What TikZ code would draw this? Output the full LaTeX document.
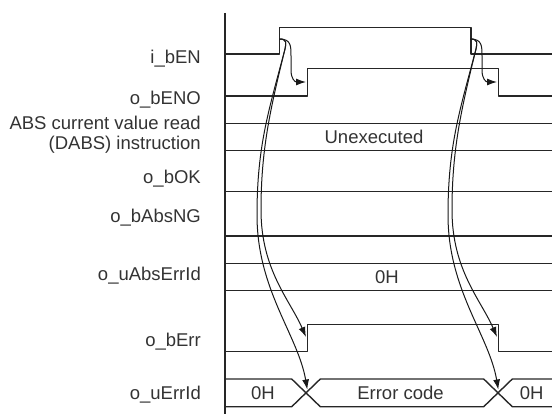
\documentclass[tikz,border=0pt]{standalone}
\usepackage{fontspec}
\setmainfont{Liberation Sans}
\usetikzlibrary{arrows.meta}
\tikzset{
  sig/.style={line width=1.4pt,draw=black!85},
  lbl/.style={anchor=east,inner sep=0pt,text height=13.2pt,text depth=0pt,text=black!80},
  val/.style={inner sep=0pt,text=black!80},
  flow/.style={line width=1pt,draw=black!90,-{Latex[length=10pt,width=7pt]}},
}
\begin{document}
\begin{tikzpicture}[x=1pt,y=-1pt,line join=round,font=\fontsize{18.5}{20}\selectfont]
  \useasboundingbox (0,0) rectangle (552,414);
  % signal names
  \node[lbl] (en) at (201,57) {i\_bEN};
  \node[lbl] (eno) at (201,98) {o\_bENO};
  \node[anchor=east,inner sep=0pt,align=right,text=black!80] (dabs) at (201,135) {ABS current value read\\(DABS) instruction};
  \node[lbl] (ok) at (201,177) {o\_bOK};
  \node[lbl] (absng) at (201,216) {o\_bAbsNG};
  \node[lbl] (abserr) at (201,274) {o\_uAbsErrId};
  \node[lbl] (err) at (201,340) {o\_bErr};
  \node[lbl] (errid) at (201,393) {o\_uErrId};
  % time axis
  \draw[sig] (225,13) -- (225,414);
  % waveforms
  \draw[sig] (225,54) -- (279.3,54) -- (279.3,27.7) -- (471,27.7) -- (471,54) -- (552,54);
  \draw[sig] (225,96) -- (307.3,96) -- (307.3,68.3) -- (498.3,68.3) -- (498.3,96) -- (552,96);
  \draw[sig] (225,123.3) -- (552,123.3);
  \draw[sig] (225,150.7) -- (552,150.7);
  \draw[sig] (225,191.7) -- (552,191.7);
  \draw[sig] (225,236) -- (552,236);
  \draw[sig] (225,263.3) -- (552,263.3);
  \draw[sig] (225,290.7) -- (552,290.7);
  \draw[sig] (225,351.7) -- (307.3,351.7) -- (307.3,324.3) -- (498.3,324.3) -- (498.3,351.7) -- (552,351.7);
  \draw[sig] (225,379) -- (291.7,379) -- (320.3,406.7) -- (483.7,406.7) -- (512.3,379) -- (552,379);
  \draw[sig] (225,406.7) -- (291.7,406.7) -- (320.3,379) -- (483.7,379) -- (512.3,406.7) -- (552,406.7);
  % values
  \node[val] (unexec) at (374,137) {Unexecuted};
  \node[val] (abszero) at (387,277) {0H};
  \node[val] (zeroa) at (263,393) {0H};
  \node[val] (ecode) at (400.5,393) {Error code};
  \node[val] (zerob) at (531.7,393) {0H};
  % causes
  \foreach \d/\i in {0/1,191/2} {
    \begin{scope}[xshift=\d]
      \coordinate (on\i) at (279.5,39);
      \coordinate (eno\i) at (306,82);
      \coordinate (err\i) at (306,337);
      \coordinate (eid\i) at (307.3,389.5);
      \draw[flow] (on\i) .. controls (291,39) and (291,46) .. (291,56) -- (291,70)
        .. controls (291,79) and (295,82) .. (eno\i);
      \draw[flow] (on\i) .. controls (287,39) and (286.3,43) .. (285,49)
        .. controls (270,110) and (261,150) .. (261,210)
        .. controls (261,270) and (290,300) .. (err\i);
      \draw[flow] (on\i) .. controls (287,39) and (286.3,43) .. (285,49)
        .. controls (269,110) and (257,145) .. (257,215)
        .. controls (257,290) and (298,335) .. (eid\i);
    \end{scope}
  }
\end{tikzpicture}
\end{document}
